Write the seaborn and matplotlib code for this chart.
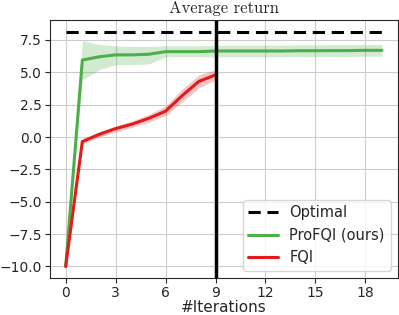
import numpy as np
import pandas as pd
import matplotlib
matplotlib.use("Agg")
import matplotlib.pyplot as plt
import seaborn as sb

# Data
optimal_value = 8.15
profqi_iters = list(range(0, 20))
profqi_mean = [-10.0, 5.95, 6.2, 6.35, 6.35, 6.4, 6.6, 6.6, 6.6, 6.65,
               6.65, 6.65, 6.65, 6.65, 6.67, 6.67, 6.68, 6.68, 6.7, 6.7]
profqi_low = [-10.0, 4.4, 5.2, 5.6, 5.6, 5.65, 6.2, 6.2, 6.2, 6.2,
              6.2, 6.2, 6.2, 6.2, 6.22, 6.22, 6.22, 6.22, 6.25, 6.25]
profqi_high = [-10.0, 7.45, 7.15, 7.05, 7.0, 7.0, 7.05, 7.05, 7.05, 7.1,
               7.1, 7.1, 7.1, 7.1, 7.12, 7.12, 7.14, 7.14, 7.15, 7.15]
fqi_iters = list(range(0, 10))
fqi_mean = [-10.0, -0.35, 0.2, 0.65, 1.0, 1.45, 2.0, 3.2, 4.3, 4.8]
fqi_low = [-10.0, -0.55, 0.0, 0.4, 0.75, 1.15, 1.65, 2.7, 3.8, 4.4]
fqi_high = [-10.0, -0.15, 0.4, 0.85, 1.25, 1.75, 2.4, 3.7, 4.8, 5.2]
split_iter = 9

green = '#4daf4a'
red = '#e41a1c'

sb.set_style("ticks", {"axes.grid": True, "grid.color": ".8"})
plt.rcParams['font.family'] = ['DejaVu Sans']

fig, ax = plt.subplots(figsize=(3.99, 3.15), dpi=100)
plt.subplots_adjust(left=0.125, right=0.997, top=0.937, bottom=0.117)

df_pro = pd.DataFrame({'it': profqi_iters, 'ret': profqi_mean})
df_fqi = pd.DataFrame({'it': fqi_iters, 'ret': fqi_mean})

ax.plot([profqi_iters[0], profqi_iters[-1]], [optimal_value, optimal_value],
        color='black', linestyle='--', linewidth=2.2, dashes=(4, 2.2), label='Optimal')
ax.fill_between(profqi_iters, profqi_low, profqi_high, color=green, alpha=0.25, linewidth=0)
sb.lineplot(data=df_pro, x='it', y='ret', color=green, linewidth=2.2,
            label='ProFQI (ours)', ax=ax)
ax.fill_between(fqi_iters, fqi_low, fqi_high, color=red, alpha=0.25, linewidth=0)
sb.lineplot(data=df_fqi, x='it', y='ret', color=red, linewidth=2.2, label='FQI', ax=ax)
ax.axvline(split_iter, color='black', linewidth=2.5)

ax.set_xticks(range(0, 19, 3))
ax.set_yticks([-10, -7.5, -5, -2.5, 0, 2.5, 5, 7.5])
ax.tick_params(labelsize=10, length=3.5, pad=2.5)
ax.set_xlabel('#Iterations', fontsize=11, labelpad=0)
ax.set_ylabel('')
ax.set_title('Average return', fontsize=12, family='cmr10', pad=5)
ax.legend(loc='lower right', fontsize=10.5, frameon=True)

plt.savefig('out.png', dpi=100)
